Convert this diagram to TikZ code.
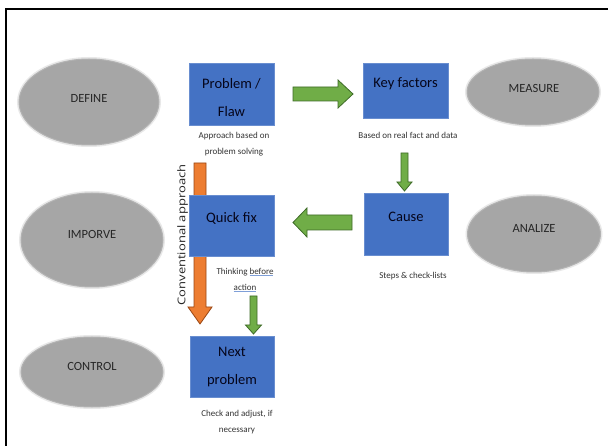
\documentclass[tikz,border=0pt]{standalone}
\usepackage{fontspec}
\setmainfont{Carlito}
\newfontfamily\sidefont{Open Sans}
\usetikzlibrary{calc,shapes.geometric}

\definecolor{boxblue}{HTML}{4472C4}
\definecolor{phasegray}{HTML}{A6A6A6}
\definecolor{greenfill}{HTML}{70AD47}
\definecolor{greenline}{HTML}{3E6B27}
\definecolor{orangefill}{HTML}{ED7D31}
\definecolor{orangeline}{HTML}{9A4714}
\definecolor{inktext}{HTML}{05051A}
\definecolor{spellblue}{HTML}{7F9FD8}

% thin blue underline used under single words
\newsavebox\spellbox
\newcommand\spellmark[1]{\sbox\spellbox{#1}\rlap{\textcolor{spellblue}{\rule[-0.35ex]{\wd\spellbox}{0.7pt}}}\usebox\spellbox}

\tikzset{
  phase/.style={ellipse, fill=phasegray, draw=phasegray!85, line width=1pt, inner sep=0pt,
    preaction={draw=phasegray, draw opacity=0.25, line width=4pt}},
  phasetext/.style={font=\fontsize{12.5}{15}\selectfont, text=black!85, inner sep=0pt},
  stepbox/.style={rectangle, fill=boxblue, draw=boxblue!80!white, line width=0.8pt, inner sep=0pt},
  boxtext/.style={font=\fontsize{14.5}{27.5}\selectfont, text=inktext, align=center, inner sep=0pt},
  note/.style={font=\fontsize{9}{15.5}\selectfont, text=black!80, align=center, inner sep=0pt},
  garrow/.style={fill=greenfill, draw=greenline, line width=0.8pt, line join=miter},
  oarrow/.style={fill=orangefill, draw=orangeline, line width=0.8pt, line join=miter},
  sidetext/.style={font=\sidefont\fontsize{13}{15}\selectfont, text=black!85, inner sep=0pt,
    rotate=90, yscale=0.82}
}

\begin{document}
\begin{tikzpicture}[x=1pt,y=-1pt]
\useasboundingbox (0,0) rectangle (608,446);
\fill[white] (0,0) rectangle (608,446);

% frame
\draw[line width=2pt] (6,446) -- (6,9) -- (608,9);

% DMAIC phases
\node[phase, minimum width=140pt, minimum height=86pt] (define) at (89,102) {};
\node[phasetext] (definet) at (89,98) {DEFINE};
\node[phase, minimum width=132pt, minimum height=66pt] (measure) at (533,92) {};
\node[phasetext] (measuret) at (534,88) {MEASURE};
\node[phase, minimum width=133pt, minimum height=76pt] (analize) at (534,234) {};
\node[phasetext] (analizet) at (534,228) {ANALIZE};
\node[phase, minimum width=142pt, minimum height=94pt] (imporve) at (92,240) {};
\node[phasetext] (imporvet) at (92,234) {IMPORVE};
\node[phase, minimum width=142pt, minimum height=70pt] (control) at (92,372) {};
\node[phasetext] (controlt) at (92,366) {CONTROL};

% conventional approach arrow, behind the boxes
\draw[oarrow] (194,163) -- (206,163) -- (206,307) -- (212,307) -- (200,324)
  -- (188,307) -- (194,307) -- cycle;
\node[sidetext] (conv) at (182.5,235) {Conventional approach};

% steps
\node[stepbox, minimum width=85pt, minimum height=62pt] (problem) at (231.5,94) {};
\node[boxtext] (problemt) at ($(problem.north)+(0,35)$) {Problem /\\Flaw};
\node[stepbox, minimum width=85pt, minimum height=55pt] (key) at (405.5,90.5) {};
\node[boxtext] (keyt) at ($(key.north)+(0,21.5)$) {Key factors};
\node[stepbox, minimum width=84pt, minimum height=62pt] (cause) at (406,224) {};
\node[boxtext] (causet) at ($(cause.north)+(0,24.5)$) {Cause};
\node[stepbox, minimum width=85pt, minimum height=61pt] (quick) at (231.5,225.5) {};
\node[boxtext] (quickt) at ($(quick.north)+(0,24)$) {Quick fix};
\node[stepbox, minimum width=84pt, minimum height=61pt] (next) at (232,366.5) {};
\node[boxtext] (nextt) at ($(next.north)+(0,31.5)$) {Next\\problem};

% notes under the steps
\node[note] (n1) at (234,144) {Approach based on\\problem solving};
\node[note] (n2) at (408,135) {Based on real fact and data};
\node[note] (n3) at (413,276) {Steps \& check-lists};
\node[note] (n4) at (245,280) {Thinking \spellmark{before}\\\spellmark{action}};
\node[note] (n5) at (237,422) {Check and adjust, if\\necessary};

% block arrows between the steps
\draw[garrow] (293,87) -- (338,87) -- (338,80) -- (353,94) -- (338,108)
  -- (338,101) -- (293,101) -- cycle;
\draw[garrow] (401,153) -- (408,153) -- (408,182) -- (412,182) -- (404.5,191)
  -- (397,182) -- (401,182) -- cycle;
\draw[garrow] (352,215) -- (307,215) -- (307,208) -- (293,222.5) -- (307,237)
  -- (307,230) -- (352,230) -- cycle;
\draw[garrow] (250,296) -- (257,296) -- (257,325) -- (261.5,325) -- (253.5,334)
  -- (245.5,325) -- (250,325) -- cycle;
\end{tikzpicture}
\end{document}
